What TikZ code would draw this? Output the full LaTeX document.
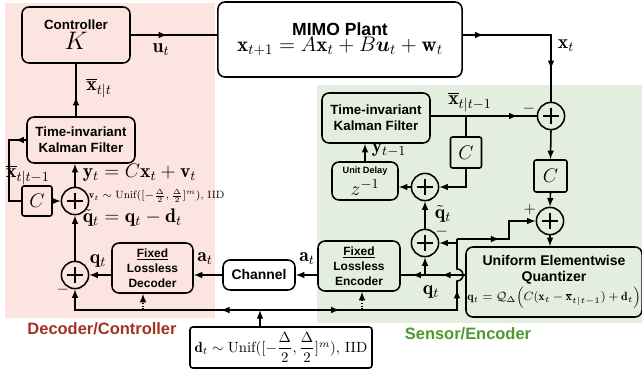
\RequirePackage{fix-cm}
\documentclass[tikz,border=0pt]{standalone}
\usepackage{amsmath}
\usepackage{amssymb}
\usepackage{xcolor}
\usepackage{fontspec}
\setsansfont{Liberation Sans}
\usepackage{tikz}
\usetikzlibrary{shapes,arrows,decorations.markings}

\definecolor{decbg}{HTML}{FCE4E1}
\definecolor{encbg}{HTML}{E4EEDF}
\definecolor{dectxt}{HTML}{A33220}
\definecolor{enctxt}{HTML}{4C9A2A}

\begin{document}
\begin{tikzpicture}[x=0.025cm, y=-0.025cm, line width=1.1pt,
  blk/.style={draw, rounded corners=5pt, align=center, inner sep=1pt, font=\sffamily\bfseries\fontsize{9.5}{11.5}\selectfont},
  gain/.style={draw, rounded corners=1.5pt, inner sep=0pt, font=\fontsize{14}{14}\selectfont},
  sumnode/.style={draw, circle, minimum size=0.68cm, inner sep=0pt,
    path picture={\draw[line width=1pt] (path picture bounding box.center) ++(-0.2cm,0) -- ++(0.4cm,0)
      (path picture bounding box.center) ++(0,-0.2cm) -- ++(0,0.4cm);}},
  lbl/.style={font=\fontsize{14}{14}\selectfont, inner sep=1pt},
  sgn/.style={font=\fontsize{11}{11}\selectfont, inner sep=0pt},
  ma/.style={postaction={decorate,decoration={markings,mark=at position #1 with {\arrow{latex}}}}}]
\useasboundingbox (0,0) rectangle (642,370);

% shaded areas
\fill[decbg] (5,3) rectangle (215,318);
\fill[encbg] (317,85) rectangle (642,323);
\node[font=\sffamily\bfseries\fontsize{11.7}{13}\selectfont, text=dectxt] (declbl) at (102,329) {Decoder/Controller};
\node[font=\sffamily\bfseries\fontsize{11.7}{13}\selectfont, text=enctxt] (enclbl) at (468,334) {Sensor/Encoder};

% blocks
\node[blk, minimum width=2.7cm, minimum height=1.4cm] (ctrl) at (76,35) {Controller\\[1pt]{\fontsize{18}{18}\selectfont$K$}};
\node[blk, minimum width=6.1cm, minimum height=1.875cm] (plant) at (340,39.5) {{\fontsize{12.5}{14}\selectfont MIMO Plant}\\{\fontsize{15}{17}\selectfont$\mathbf{x}_{t+1} = A\mathbf{x}_t + B\boldsymbol{u}_t + \mathbf{w}_t$}};
\node[blk, minimum width=2.7cm, minimum height=1.25cm] (kfs) at (376,118) {Time-invariant\\Kalman Filter};
\node[blk, minimum width=1.65cm, minimum height=0.95cm] (delay) at (365,181) {{\fontsize{6.5}{7}\selectfont Unit Delay}\\[2pt]{\fontsize{14}{14}\selectfont$z^{-1}$}};
\node[blk, minimum width=4.325cm, minimum height=1.75cm] (quant) at (554,282) {{\fontsize{10}{12}\selectfont Uniform Elementwise}\\{\fontsize{10}{12}\selectfont Quantizer}\\[1pt]{\fontsize{8.5}{10}\selectfont$\mathbf{q}_t = \mathcal{Q}_\Delta\Big(C(\mathbf{x}_t - \overline{\mathbf{x}}_{t|t-1}) + \mathbf{d}_t\Big)$}};
\node[blk, minimum width=2.05cm, minimum height=1.25cm, font=\sffamily\bfseries\fontsize{8.5}{10.5}\selectfont] (enc) at (359,266) {\underline{Fixed}\\Lossless\\Encoder};
\node[blk, minimum width=1.8cm, minimum height=0.75cm, font=\sffamily\bfseries\fontsize{9.9}{11}\selectfont] (chan) at (259,275) {Channel};
\node[blk, minimum width=2.025cm, minimum height=1.25cm, font=\sffamily\bfseries\fontsize{8.5}{10.5}\selectfont] (dec) at (152.5,268) {\underline{Fixed}\\Lossless\\Decoder};
\node[blk, minimum width=2.7cm, minimum height=1.15cm] (kfd) at (81,140) {Time-invariant\\Kalman Filter};
\node[draw, rounded corners=2pt, minimum width=4.45cm, minimum height=1.025cm, font=\fontsize{10.5}{12}\selectfont] (dith) at (281,347.5) {$\mathbf{d}_t \sim \mathrm{Unif}([-\dfrac{\Delta}{2},\dfrac{\Delta}{2}]^m)$, IID};

\node[gain, minimum size=0.775cm] (cs) at (466,152.5) {$C$};
\node[gain, minimum width=0.825cm, minimum height=0.8cm] (cq) at (550.5,176) {$C$};
\node[gain, minimum size=0.75cm] (cd) at (37,201) {$C$};

\node[sumnode] (sum1) at (551,116) {};
\node[sumnode] (sumd) at (425,187) {};
\node[sumnode] (sum3) at (425,243) {};
\node[sumnode] (sum4) at (550,221) {};
\node[sumnode] (sum5) at (75,275) {};
\node[sumnode] (sum6) at (75,201) {};

\coordinate (bus) at (0,275);
\coordinate (tap) at (cs.north |- sum1.west);
\coordinate (dtap) at (260,310);
\coordinate (br) at (457,239);
\coordinate (brl) at (457,243);
\coordinate (dd) at (143,310);
\coordinate (de) at (362,310);

% plant loop
\draw[ma=0.42] (ctrl.east) -- (ctrl.east -| plant.west);
\draw[ma=0.134, ma=0.79] (plant.east |- ctrl.east) -| (sum1.north);
\draw[ma=0.82] (kfs.east |- sum1.west) -- (sum1.west);
\draw (tap) -- (cs.north);
\draw[-latex] (cs.south) |- (sumd.east);
\draw[-latex] (sumd.west) -- (sumd.west -| delay.east);
\draw[-latex] (delay.north) -- (delay.north |- kfs.south);
\draw[-latex] (sum3.north) -- (sumd.south);
\draw[-latex] (sum1.south) -- (cq.north);
\draw[-latex] (cq.south) -- (sum4.north);
\draw[-latex] (sum4.south) -- (sum4.south |- quant.north);

% quantized index to decoder
\draw[ma=0.36, ma=0.82] (quant.west |- bus) -- (enc.east |- bus);
\draw[-latex] (sum3.south |- bus) -- (sum3.south);
\draw[-latex] (enc.west |- bus) -- (chan.east);
\draw[-latex] (chan.west) -- (dec.east |- bus);
\draw[-latex] (dec.west |- bus) -- (sum5.east);
\draw[-latex] (sum5.north) -- (sum6.south);
\draw[-latex] (cd.east) -- (sum6.west);
\draw[-latex] (sum6.north) -- (sum6.north |- kfd.south);
\draw[ma=0.12] (kfd.west) -| ([xshift=-0.3cm]cd.west) -- (cd.west);
\draw[ma=0.37] (ctrl.south |- kfd.north) -- (ctrl.south);

% dither
\draw[-latex] (dtap |- dith.north) -- (dtap);
\draw[-latex, ma=0.19] (dtap) -| (sum5.south);
\draw[ma=0.29, ma=0.79] (dtap) -- (dtap -| br) -- ([yshift=-0.15cm]br |- bus) arc[start angle=-90, end angle=90, radius=0.15cm] -- (br);
\draw[-latex] (brl) -- (sum3.east);
\draw[-latex, ma=0.44] (br) -- ++(52,0) |- (sum4.west);
\draw[densely dotted, -latex] (dd) -- (dd |- dec.south);
\draw[densely dotted, -latex] (de) -- (de |- enc.south);

% labels
\node[lbl] (ulbl) at (161,50) {$\mathbf{u}_t$};
\node[lbl] (xlbl) at (566,46) {$\mathbf{x}_t$};
\node[lbl] (xttl) at (99,88) {$\overline{\mathbf{x}}_{t|t}$};
\node[lbl] (xsl) at (470,102) {$\overline{\mathbf{x}}_{t|t-1}$};
\node[sgn] (m1) at (529,109) {$-$};
\node[lbl] (ylbl) at (389,150) {$\mathbf{y}_{t-1}$};
\node[lbl] (qts) at (443,214) {$\tilde{\mathbf{q}}_t$};
\node[sgn] (m3) at (442,232) {$-$};
\node[sgn] (p4) at (530,210) {$+$};
\node[lbl] (qs) at (431,292) {$\mathbf{q}_t$};
\node[lbl] (a1) at (307,259) {$\mathbf{a}_t$};
\node[lbl] (a2) at (205,259) {$\mathbf{a}_t$};
\node[lbl] (qd) at (98,261) {$\mathbf{q}_t$};
\node[sgn] (m5) at (63,290) {$-$};
\node[lbl, anchor=west, inner sep=0pt] (qtd) at (82,218) {$\tilde{\mathbf{q}}_t = \mathbf{q}_t - \mathbf{d}_t$};
\node[lbl, anchor=west, inner sep=0pt] (yl) at (82,173) {$\mathbf{y}_t = C\mathbf{x}_t + \mathbf{v}_t$};
\node[anchor=west, inner sep=0pt, font=\fontsize{7.5}{8}\selectfont] (vl) at (88,196) {$\mathbf{v}_t\sim\mathrm{Unif}([-\frac{\Delta}{2},\frac{\Delta}{2}]^m)$, IID};
\node[lbl, anchor=west] (xdl) at (4,175) {$\overline{\mathbf{x}}_{t|t-1}$};
\end{tikzpicture}
\end{document}
